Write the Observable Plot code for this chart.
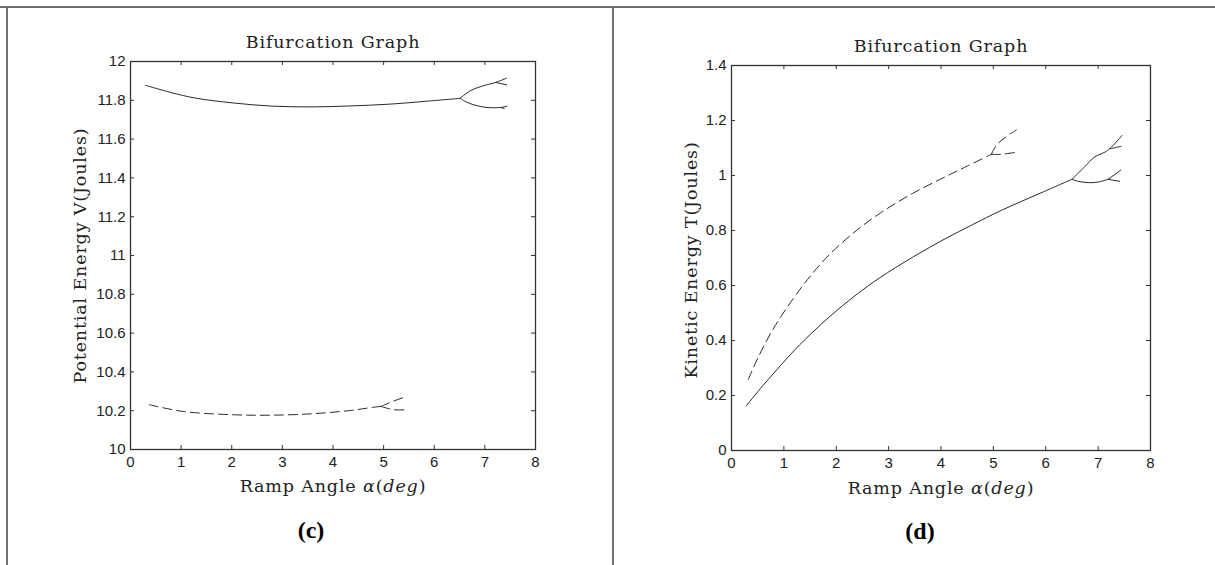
<!DOCTYPE html>
<html><head><meta charset="utf-8">
<script src="https://cdn.jsdelivr.net/npm/d3@7"></script>
<script src="https://cdn.jsdelivr.net/npm/@observablehq/plot@0.6"></script>
<style>
body{margin:0;background:#fff;}
#wrap{position:relative;width:1215px;height:565px;overflow:hidden;background:#fff;}
.panel{position:absolute;top:0;}
.rule{position:absolute;background:#707070;}
</style></head><body>
<div id="wrap"></div>
<script>
// ---------- shared ticks ----------
const xTicks = [0, 1, 2, 3, 4, 5, 6, 7, 8];
const yTicksC = [10, 10.2, 10.4, 10.6, 10.8, 11, 11.2, 11.4, 11.6, 11.8, 12];
const yTicksD = [0, 0.2, 0.4, 0.6, 0.8, 1, 1.2, 1.4];

// ---------- panel (c): potential energy ----------
const cSolidMainX = [0.29, 0.80, 1.27, 2.04, 2.80, 3.57, 4.34, 5.11, 5.88, 6.51];
const cSolidMainY = [11.878, 11.840, 11.812, 11.786, 11.770, 11.766, 11.771, 11.780, 11.796, 11.810];
const cSolidUpX = [6.51, 6.71, 6.91, 7.14, 7.21, 7.43];
const cSolidUpY = [11.810, 11.849, 11.870, 11.887, 11.892, 11.914];
const cSolidUpSubX = [7.21, 7.43];
const cSolidUpSubY = [11.892, 11.880];
const cSolidLowX = [6.51, 6.65, 6.85, 7.04, 7.31, 7.44];
const cSolidLowY = [11.810, 11.789, 11.772, 11.763, 11.763, 11.770];
const cSolidLowSubX = [7.31, 7.38];
const cSolidLowSubY = [11.763, 11.758];
const cDashMainX = [0.37, 1.04, 2.04, 2.80, 3.57, 4.34, 4.80, 4.95];
const cDashMainY = [10.231, 10.196, 10.179, 10.177, 10.184, 10.201, 10.218, 10.222];
const cDashUpX = [4.95, 5.20, 5.45];
const cDashUpY = [10.222, 10.250, 10.273];
const cDashLowX = [4.95, 5.20, 5.45];
const cDashLowY = [10.222, 10.205, 10.205];

// ---------- panel (d): kinetic energy ----------
const dSolidMainX = [0.28, 0.60, 0.95, 1.30, 1.87, 2.38, 2.83, 3.46, 4.10, 4.61, 5.15, 5.91, 6.50];
const dSolidMainY = [0.162, 0.236, 0.312, 0.384, 0.486, 0.566, 0.628, 0.703, 0.772, 0.822, 0.873, 0.937, 0.986];
const dSolidUpX = [6.50, 6.74, 6.93, 7.13, 7.22, 7.46];
const dSolidUpY = [0.986, 1.031, 1.067, 1.085, 1.097, 1.146];
const dSolidUpSubX = [7.22, 7.32, 7.44];
const dSolidUpSubY = [1.097, 1.101, 1.106];
const dSolidLowX = [6.50, 6.62, 6.81, 7.00, 7.19];
const dSolidLowY = [0.986, 0.979, 0.974, 0.976, 0.986];
const dSolidLowUpX = [7.19, 7.43];
const dSolidLowUpY = [0.986, 1.019];
const dSolidLowDownX = [7.19, 7.41];
const dSolidLowDownY = [0.986, 0.979];
const dDashMainX = [0.32, 0.50, 0.79, 1.17, 1.55, 1.87, 2.32, 2.83, 3.46, 4.10, 4.51, 4.96];
const dDashMainY = [0.258, 0.335, 0.440, 0.550, 0.645, 0.712, 0.790, 0.862, 0.935, 0.997, 1.035, 1.077];
const dDashUpX = [4.96, 5.08, 5.44];
const dDashUpY = [1.077, 1.115, 1.166];
const dDashLowX = [4.96, 5.15, 5.44];
const dDashLowY = [1.077, 1.077, 1.085];

// ---------- texts ----------
const titleText = "Bifurcation Graph";
const xLabelText = "Ramp Angle α(deg)";
const yLabelC = "Potential Energy V(Joules)";
const yLabelD = "Kinetic Energy T(Joules)";
const tagC = "(c)";
const tagD = "(d)";

const serif = "'DejaVu Serif', 'Liberation Serif', serif";
const sans = "'Liberation Sans', Arial, sans-serif";
const ink = "#222";

function series(xs, ys, dashed) {
  return Plot.line(xs, {x: xs, y: ys, curve: "catmull-rom", stroke: "#2a2a2a", strokeWidth: 1,
    strokeDasharray: dashed ? "9,5" : null});
}

function panel(cfg) {
  const fh = cfg.height - cfg.mt - cfg.mb;
  const fw = cfg.width - cfg.ml - cfg.mr;
  const p = Plot.plot({
    width: cfg.width, height: cfg.height,
    marginLeft: cfg.ml, marginRight: cfg.mr, marginTop: cfg.mt, marginBottom: cfg.mb,
    x: {domain: [0, 8]},
    y: {domain: cfg.ydomain},
    style: {background: "transparent", color: ink, fontFamily: sans, fontSize: "15px", overflow: "visible"},
    marks: [
      Plot.tickX(xTicks, {x: d => d, insetTop: fh - 4, stroke: "#333"}),
      Plot.tickX(xTicks, {x: d => d, insetBottom: fh - 4, stroke: "#333"}),
      Plot.tickY(cfg.yticks, {y: d => d, insetRight: fw - 4, stroke: "#333"}),
      Plot.tickY(cfg.yticks, {y: d => d, insetLeft: fw - 4, stroke: "#333"}),
      Plot.axisX({ticks: xTicks, tickSize: 0, tickPadding: 7, label: null, fontSize: 15, fill: ink,
        tickFormat: d => String(d)}),
      Plot.axisY({ticks: cfg.yticks, tickSize: 0, tickPadding: 5, label: null, fontSize: 15, fill: ink,
        tickFormat: d => String(d)}),
      ...cfg.lines,
      Plot.frame({stroke: "#333", strokeWidth: 1.3}),
      Plot.text([titleText], {frameAnchor: "top", dy: cfg.titleDy, textAnchor: "middle", lineAnchor: "middle",
        fontFamily: serif, fontSize: 17.5, fill: ink}),
      Plot.text([xLabelText], {frameAnchor: "bottom", dy: cfg.xlabDy, textAnchor: "middle", lineAnchor: "middle",
        fontFamily: serif, fontSize: 17.5, fill: ink}),
      Plot.text([cfg.ylabel], {frameAnchor: "left", dx: cfg.ylabDx, dy: cfg.ylabDy, rotate: -90,
        textAnchor: "middle", lineAnchor: "middle", fontFamily: serif, fontSize: 17.5, fill: ink}),
      Plot.text([cfg.tag], {frameAnchor: "bottom", dx: cfg.tagDx, dy: cfg.tagDy, textAnchor: "middle",
        lineAnchor: "middle", fontFamily: "'Liberation Serif', 'Times New Roman', serif", fontWeight: "bold",
        fontSize: 24, fill: "#000"})
    ]
  });
  p.classList.add("panel");
  p.style.left = cfg.left + "px";
  p.querySelectorAll("text").forEach(t => {
    const s = t.textContent;
    if (s === titleText || s === xLabelText || s === cfg.ylabel) t.setAttribute("letter-spacing", "0.85");
    // italic math parts of the x label
    if (s === xLabelText) {
      t.textContent = "";
      const parts = [["Ramp Angle ", null], ["α", "italic"], ["(", null], ["deg", "italic"], [")", null]];
      for (const [str, st] of parts) {
        const ts = document.createElementNS("http://www.w3.org/2000/svg", "tspan");
        ts.textContent = str;
        if (st) ts.setAttribute("font-style", st);
        t.appendChild(ts);
      }
    }
  });
  return p;
}

const wrap = document.getElementById("wrap");

wrap.appendChild(panel({
  left: 0, width: 612, height: 565, ml: 130, mr: 77, mt: 61, mb: 116,
  ydomain: [10, 12], yticks: yTicksC, ylabel: yLabelC, tag: tagC,
  titleDy: -19, xlabDy: 37, ylabDx: -50, ylabDy: 0, tagDx: -22, tagDy: 81,
  lines: [
    series(cSolidMainX, cSolidMainY, false),
    series(cSolidUpX, cSolidUpY, false),
    series(cSolidUpSubX, cSolidUpSubY, false),
    series(cSolidLowX, cSolidLowY, false),
    series(cSolidLowSubX, cSolidLowSubY, false),
    series(cDashMainX, cDashMainY, true),
    series(cDashUpX, cDashUpY, true),
    series(cDashLowX, cDashLowY, true)
  ]
}));

wrap.appendChild(panel({
  left: 614, width: 601, height: 565, ml: 117, mr: 65, mt: 65, mb: 115,
  ydomain: [0, 1.4], yticks: yTicksD, ylabel: yLabelD, tag: tagD,
  titleDy: -19, xlabDy: 38, ylabDx: -40, ylabDy: 2, tagDx: -21, tagDy: 81,
  lines: [
    series(dSolidMainX, dSolidMainY, false),
    series(dSolidUpX, dSolidUpY, false),
    series(dSolidUpSubX, dSolidUpSubY, false),
    series(dSolidLowX, dSolidLowY, false),
    series(dSolidLowUpX, dSolidLowUpY, false),
    series(dSolidLowDownX, dSolidLowDownY, false),
    series(dDashMainX, dDashMainY, true),
    series(dDashUpX, dDashUpY, true),
    series(dDashLowX, dDashLowY, true)
  ]
}));

// table-like borders
for (const st of ["left:0;top:6px;width:1215px;height:2px", "left:6px;top:6px;width:2px;height:559px",
                  "left:612px;top:6px;width:2px;height:559px"]) {
  const r = document.createElement("div");
  r.className = "rule";
  r.setAttribute("style", st);
  wrap.appendChild(r);
}
</script>
</body></html>
